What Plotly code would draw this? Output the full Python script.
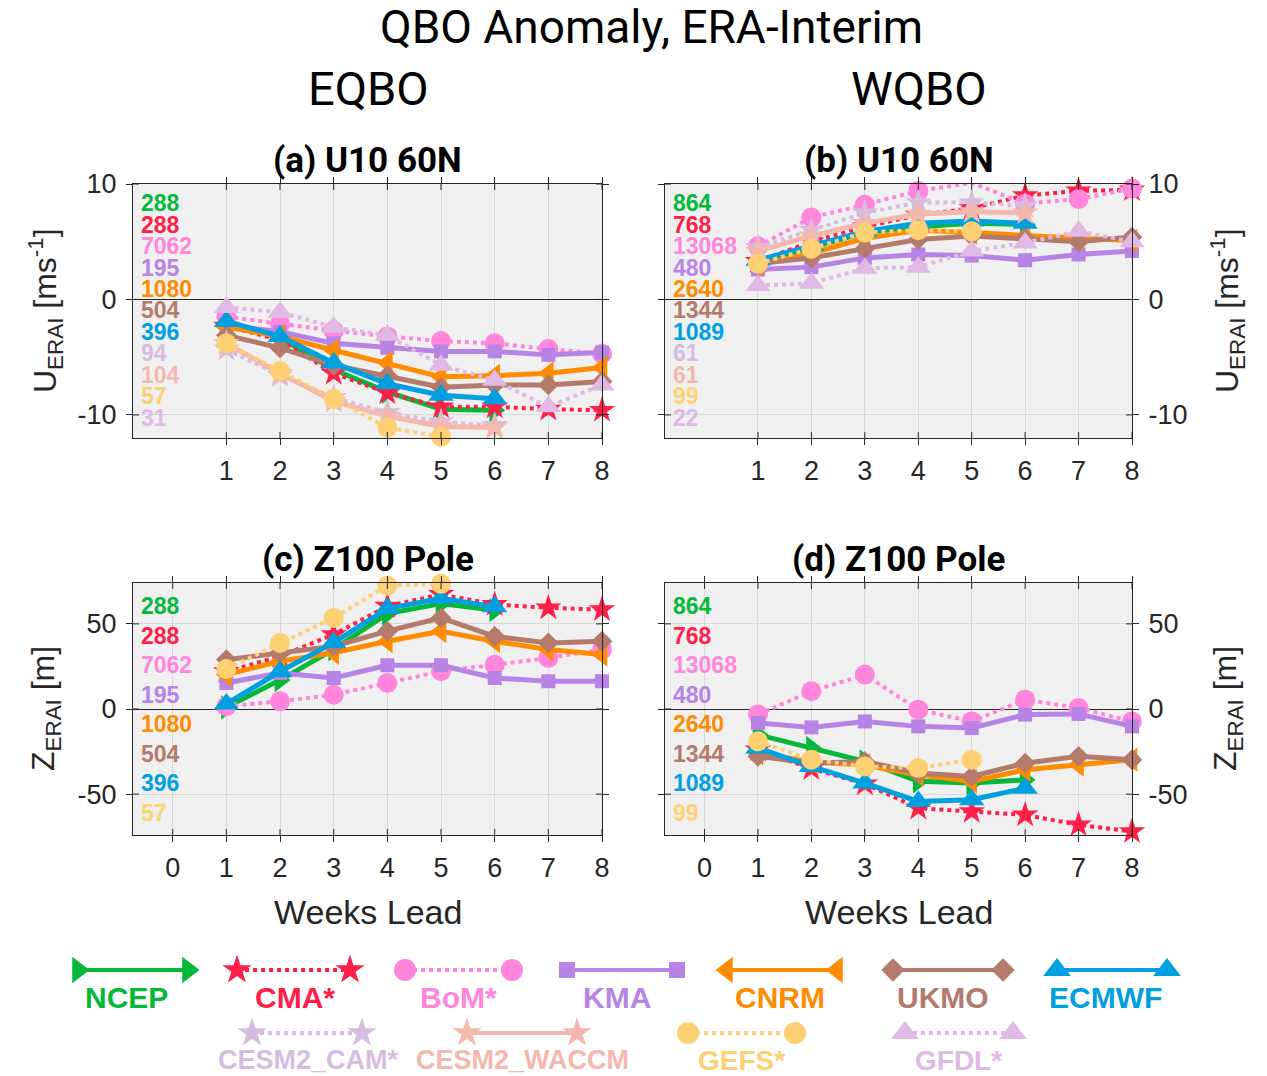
import plotly.graph_objects as go

W, H = 1267, 1076

# ---------------- data ----------------
weeks = [1, 2, 3, 4, 5, 6, 7, 8]
models = ["NCEP", "CMA*", "BoM*", "KMA", "CNRM", "UKMO", "ECMWF",
          "CESM2_CAM*", "CESM2_WACCM", "GEFS*", "GFDL*"]
colors = ["#05B83A", "#FF2049", "#FF86DC", "#B784E6", "#FF8C00", "#B47A6B",
          "#00A0E0", "#D6BDE0", "#F4B8AE", "#FDD073", "#E0BAE4"]
symbols = ["triangle-right", "star", "circle", "square", "triangle-left",
           "diamond", "triangle-up", "star", "star", "circle", "triangle-up"]
dashes = ["solid", "dot", "dot", "solid", "solid", "solid", "solid",
          "dot", "solid", "dot", "dot"]
msizes = [21, 20, 20, 14, 21, 16, 22, 20, 20, 20, 22]

# (a) U10 60N, EQBO
u10_eqbo = {
    "NCEP": [-2.0, -3.3, -6.1, -8.0, -9.5, -9.6],
    "CMA*": [-2.3, -3.5, -6.4, -8.1, -9.3, -9.3, -9.5, -9.6],
    "BoM*": [-1.5, -2.1, -2.7, -3.2, -3.6, -3.8, -4.3, -4.7],
    "KMA": [-2.2, -2.8, -3.8, -4.2, -4.5, -4.5, -4.8, -4.6],
    "CNRM": [-2.4, -3.2, -4.4, -5.5, -6.7, -6.6, -6.4, -5.9],
    "UKMO": [-3.1, -4.2, -5.7, -6.6, -7.6, -7.4, -7.4, -7.1],
    "ECMWF": [-1.9, -3.2, -5.5, -7.3, -8.3, -8.6],
    "CESM2_CAM*": [-4.3, -6.6, -8.5, -9.8, -10.6, -10.9],
    "CESM2_WACCM": [-3.8, -6.4, -8.8, -10.1, -11.0, -11.1],
    "GEFS*": [-3.8, -6.2, -8.6, -11.1, -11.9],
    "GFDL*": [-0.7, -1.1, -2.4, -3.1, -5.7, -7.0, -9.3, -7.4],
}
# (b) U10 60N, WQBO
u10_wqbo = {
    "NCEP": [3.2, 4.5, 5.8, 6.3, 6.6, 6.5],
    "CMA*": [3.3, 5.0, 6.3, 7.3, 7.9, 9.0, 9.4, 9.5],
    "BoM*": [4.6, 7.1, 8.2, 9.4, 10.1, 8.3, 8.7, 9.6],
    "KMA": [2.6, 2.8, 3.6, 3.9, 3.8, 3.4, 3.9, 4.2],
    "CNRM": [3.0, 4.0, 5.3, 6.0, 5.8, 5.5, 5.3, 5.1],
    "UKMO": [3.1, 3.6, 4.4, 5.2, 5.5, 5.3, 5.0, 5.4],
    "ECMWF": [3.4, 4.7, 5.9, 6.6, 6.8, 6.6],
    "CESM2_CAM*": [4.5, 6.0, 7.5, 8.4, 8.4, 8.1],
    "CESM2_WACCM": [4.2, 5.5, 6.6, 7.4, 7.6, 7.5],
    "GEFS*": [3.1, 4.4, 5.8, 6.0, 5.9],
    "GFDL*": [1.2, 1.4, 2.7, 2.8, 4.2, 4.9, 5.9, 5.0],
}
# (c) Z100 Pole, EQBO
z100_eqbo = {
    "NCEP": [1, 17, 35, 56, 62, 58],
    "CMA*": [22, 31, 43.7, 60.4, 67.3, 61.4, 59.4, 58.4],
    "BoM*": [1.6, 4.5, 8.4, 15.3, 22.2, 26, 30, 35],
    "KMA": [15.3, 21.2, 18.2, 25.7, 25.7, 18.2, 16.3, 16.3],
    "CNRM": [20.2, 28, 33, 39.8, 45.7, 39.8, 34.9, 32],
    "UKMO": [29, 33, 36.9, 45.7, 53.5, 42.7, 38.8, 39.8],
    "ECMWF": [3, 22, 39, 59, 65, 60],
    "GEFS*": [23.5, 38.8, 53.5, 72.5, 73.5],
}
# (d) Z100 Pole, WQBO
z100_wqbo = {
    "NCEP": [-15.1, -22.9, -30.8, -42.5, -43.5, -41.6],
    "CMA*": [-24, -35, -44, -58.2, -60.2, -62.2, -68, -72],
    "BoM*": [-3.3, 10.4, 20.2, -0.4, -7.3, 5.5, 0.6, -7.3],
    "KMA": [-8.2, -10.8, -7.3, -10.2, -11.2, -3.3, -2.9, -10.2],
    "CNRM": [-26, -31, -33, -38.6, -42.5, -35.7, -32.7, -29.8],
    "UKMO": [-27.8, -31.8, -30.8, -37.6, -39.6, -31.8, -27.8, -29.8],
    "ECMWF": [-22.9, -33.7, -43.5, -54.3, -53.3, -46.5],
    "GEFS*": [-19, -29.8, -33.7, -34.7, -29.8],
}
# sample counts shown in each panel
counts_a = [288, 288, 7062, 195, 1080, 504, 396, 94, 104, 57, 31]
counts_b = [864, 768, 13068, 480, 2640, 1344, 1089, 61, 61, 99, 22]
counts_c = [288, 288, 7062, 195, 1080, 504, 396, 57]
counts_d = [864, 768, 13068, 480, 2640, 1344, 1089, 99]
count_models_top = models
count_models_bottom = ["NCEP", "CMA*", "BoM*", "KMA", "CNRM", "UKMO", "ECMWF", "GEFS*"]

u_ticks = [-10, 0, 10]
z_ticks = [-50, 0, 50]
top_xticks = [1, 2, 3, 4, 5, 6, 7, 8]
bot_xticks = [0, 1, 2, 3, 4, 5, 6, 7, 8]

# ---------------- layout constants ----------------
TXT = "#262626"
GRID = "#d9d9d9"
BG = "#f0f0f0"
REG = "Liberation Sans, Arial, sans-serif"
NARROW = "Liberation Sans Narrow, Roboto, sans-serif"
TICKFONT = dict(family=REG, size=27, color=TXT)

XA = (133, 602)
XB = (665, 1132)
YT = (184, 438)
YB = (583, 835)


def xd(p):
    return [p[0] / W, p[1] / W]


def yd(p):
    return [1 - p[1] / H, 1 - p[0] / H]


panels = [
    dict(n="", xdom=XA, ydom=YT, data=u10_eqbo, yr=[-12, 10], yt=u_ticks,
         xt=top_xticks, side="left", counts=counts_a, cm=count_models_top,
         title="(a) U10 60N", cf=(0.075, 0.921)),
    dict(n="2", xdom=XB, ydom=YT, data=u10_wqbo, yr=[-12, 10], yt=u_ticks,
         xt=top_xticks, side="right", counts=counts_b, cm=count_models_top,
         title="(b) U10 60N", cf=(0.075, 0.921)),
    dict(n="3", xdom=XA, ydom=YB, data=z100_eqbo, yr=[-74, 74], yt=z_ticks,
         xt=bot_xticks, side="left", counts=counts_c, cm=count_models_bottom,
         title="(c) Z100 Pole", cf=(0.091, 0.913)),
    dict(n="4", xdom=XB, ydom=YB, data=z100_wqbo, yr=[-74, 74], yt=z_ticks,
         xt=bot_xticks, side="right", counts=counts_d, cm=count_models_bottom,
         title="(d) Z100 Pole", cf=(0.091, 0.913)),
]

fig = go.Figure()
annotations = []
shapes = []
TL = 6

for p in panels:
    n = p["n"]
    xr = "x" + n
    yr = "y" + n
    fig.update_layout(**{
        "xaxis" + n: dict(domain=xd(p["xdom"]), anchor=yr, range=[-0.74, 8],
                          tickmode="array", tickvals=p["xt"],
                          ticktext=[str(v) for v in p["xt"]],
                          ticks="outside", ticklen=TL, tickcolor=TXT,
                          mirror="ticks", showline=True, linecolor=TXT,
                          linewidth=1, showgrid=True, gridcolor=GRID,
                          gridwidth=1, zeroline=False, tickfont=TICKFONT,
                          ticklabelstandoff=3, fixedrange=True,
                          automargin=False),
        "yaxis" + n: dict(domain=yd(p["ydom"]), anchor=xr, range=p["yr"],
                          side=p["side"], tickmode="array", tickvals=p["yt"],
                          ticktext=[str(v) for v in p["yt"]],
                          ticks="outside", ticklen=TL, tickcolor=TXT,
                          mirror="ticks", showline=True, linecolor=TXT,
                          linewidth=1, showgrid=True, gridcolor=GRID,
                          gridwidth=1, zeroline=True, zerolinecolor=TXT,
                          zerolinewidth=1, tickfont=TICKFONT,
                          ticklabelstandoff=4, fixedrange=True,
                          automargin=False),
    })
    # panel background
    shapes.append(dict(type="rect", xref=xr + " domain", yref=yr + " domain",
                       x0=0, x1=1, y0=0, y1=1, fillcolor=BG,
                       line=dict(width=0), layer="below"))
    # inward half of the ticks (MATLAB 'both' tick direction)
    for v in p["xt"]:
        for anch, sgn in ((0, 1), (1, -1)):
            shapes.append(dict(type="line", xref=xr, yref=yr + " domain",
                               ysizemode="pixel", yanchor=anch, x0=v, x1=v,
                               y0=0, y1=sgn * TL, line=dict(color=TXT, width=1)))
    for v in p["yt"]:
        for anch, sgn in ((0, 1), (1, -1)):
            shapes.append(dict(type="line", xref=xr + " domain", yref=yr,
                               xsizemode="pixel", xanchor=anch, y0=v, y1=v,
                               x0=0, x1=sgn * TL, line=dict(color=TXT, width=1)))
    # series
    for i, m in enumerate(models):
        if m not in p["data"]:
            continue
        vals = p["data"][m]
        fig.add_trace(go.Scatter(
            x=weeks[:len(vals)], y=vals, xaxis=xr, yaxis=yr,
            mode="lines+markers", cliponaxis=False, showlegend=False,
            line=dict(color=colors[i], width=5 if dashes[i] == "solid" else 4,
                      dash=dashes[i]),
            marker=dict(symbol=symbols[i], size=msizes[i], color=colors[i],
                        line=dict(width=0)),
            hoverinfo="skip"))
    # counts
    cnt = p["counts"]
    f0, f1 = p["cf"]
    k = len(cnt)
    for j, (c, m) in enumerate(zip(cnt, p["cm"])):
        frac = f0 + (f1 - f0) * j / (k - 1)
        annotations.append(dict(
            xref=xr + " domain", yref=yr + " domain", x=0.012, y=1 - frac,
            xanchor="left", yanchor="middle", showarrow=False,
            text="<b>%d</b>" % c,
            font=dict(family=REG, size=23, color=colors[models.index(m)])))
    # panel title
    annotations.append(dict(
        xref="paper", yref="paper",
        x=(p["xdom"][0] + p["xdom"][1]) / 2 / W,
        y=1 - (p["ydom"][0] - 24) / H, xanchor="center", yanchor="middle",
        showarrow=False, text="<b>%s</b>" % p["title"],
        font=dict(family=NARROW, size=35, color="black")))

# axis labels
ylab_u = "U<sub>ERAI</sub> [ms<sup>-1</sup>]"
ylab_z = "Z<sub>ERAI</sub> [m]"
for xpix, ypan, lab in ((45, YT, ylab_u), (1227, YT, ylab_u),
                        (45, YB, ylab_z), (1227, YB, ylab_z)):
    annotations.append(dict(
        xref="paper", yref="paper", x=xpix / W,
        y=1 - (ypan[0] + ypan[1]) / 2 / H, xanchor="center", yanchor="middle",
        textangle=-90, showarrow=False, text=lab,
        font=dict(family=REG, size=32, color=TXT)))
for xp in (XA, XB):
    annotations.append(dict(
        xref="paper", yref="paper", x=(xp[0] + xp[1]) / 2 / W, y=1 - 912 / H,
        xanchor="center", yanchor="middle", showarrow=False,
        text="Weeks Lead", font=dict(family=REG, size=34, color=TXT)))

# figure titles
for txt, xpix, ypix, fs in (("QBO Anomaly, ERA-Interim", 651, 27, 46),
                            ("EQBO", 368, 88, 47), ("WQBO", 919, 88, 47)):
    annotations.append(dict(
        xref="paper", yref="paper", x=xpix / W, y=1 - ypix / H,
        xanchor="center", yanchor="middle", showarrow=False, text=txt,
        font=dict(family=NARROW, size=fs, color="black")))

# ---------------- custom legend ----------------
leg_seg = {  # left/right pixel ends of each legend sample, row y, label centre, font size
    "NCEP": (78, 188, 970, 126, 997, 30),
    "CMA*": (237, 350, 970, 295, 997, 30),
    "BoM*": (405, 512, 970, 458, 997, 30),
    "KMA": (567, 677, 970, 617, 997, 30),
    "CNRM": (727, 837, 970, 780, 997, 30),
    "UKMO": (893, 1003, 970, 943, 997, 30),
    "ECMWF": (1057, 1167, 970, 1105, 997, 30),
    "CESM2_CAM*": (252, 362, 1033, 308, 1060, 27),
    "CESM2_WACCM": (467, 577, 1033, 522, 1060, 27),
    "GEFS*": (688, 795, 1033, 742, 1060, 28),
    "GFDL*": (905, 1013, 1033, 959, 1060, 28),
}
fig.update_layout(
    xaxis9=dict(domain=[0, 1], range=[0, W], visible=False, anchor="y9",
                fixedrange=True, automargin=False),
    yaxis9=dict(domain=[0, 1], range=[H, 0], visible=False, anchor="x9",
                fixedrange=True, automargin=False),
)
for i, m in enumerate(models):
    x0, x1, yy, tx, ty, fs = leg_seg[m]
    fig.add_trace(go.Scatter(
        x=[x0, x1], y=[yy, yy], xaxis="x9", yaxis="y9", mode="lines+markers",
        cliponaxis=False, showlegend=False, hoverinfo="skip",
        line=dict(color=colors[i], width=4, dash=dashes[i]),
        marker=dict(symbol=symbols[i], size=msizes[i] + 2, color=colors[i],
                    line=dict(width=0))))
    annotations.append(dict(
        xref="paper", yref="paper", x=tx / W, y=1 - ty / H, xanchor="center",
        yanchor="middle", showarrow=False, text="<b>%s</b>" % m,
        font=dict(family=REG, size=fs, color=colors[i])))

fig.update_layout(
    width=W, height=H,
    margin=dict(l=0, r=0, t=0, b=0, pad=0, autoexpand=False),
    paper_bgcolor="white", plot_bgcolor="rgba(0,0,0,0)",
    annotations=annotations, shapes=shapes, showlegend=False,
    font=dict(family=REG, color=TXT),
)

fig.write_html("out.html", config={"displayModeBar": False})
